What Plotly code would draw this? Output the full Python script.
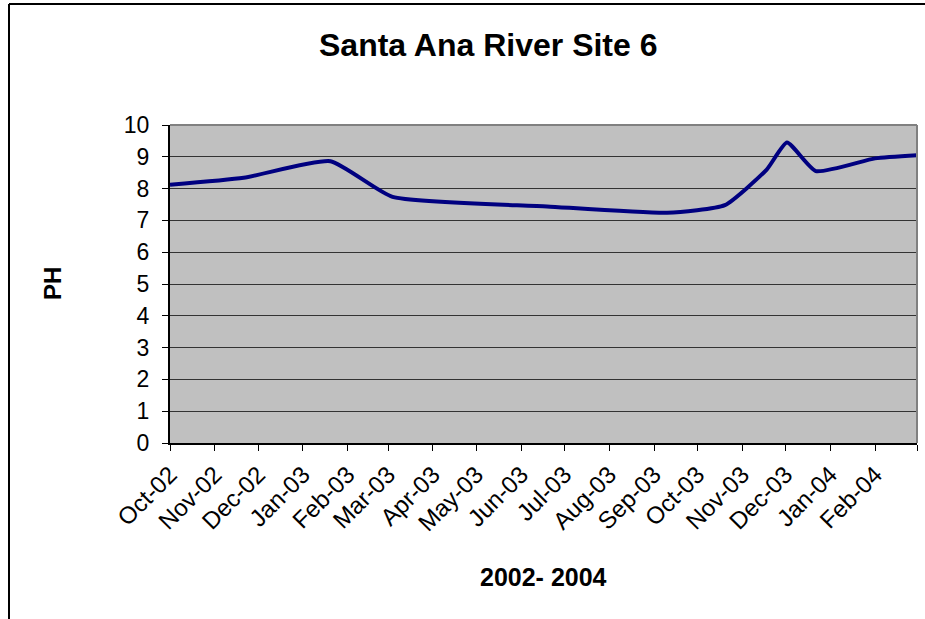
import plotly.graph_objects as go

# Data
dates = ["2002-10-01", "2002-11-21", "2003-01-20", "2003-03-04", "2003-06-19",
         "2003-09-10", "2003-10-20", "2003-11-18", "2003-12-02", "2003-12-22",
         "2004-02-01", "2004-03-01"]
ph = [8.12, 8.34, 8.86, 7.74, 7.44, 7.24, 7.48, 8.60, 9.45, 8.55, 8.95, 9.05]

tick_vals = ["2002-10-01", "2002-11-01", "2002-12-01", "2003-01-01", "2003-02-01",
             "2003-03-01", "2003-04-01", "2003-05-01", "2003-06-01", "2003-07-01",
             "2003-08-01", "2003-09-01", "2003-10-01", "2003-11-01", "2003-12-01",
             "2004-01-01", "2004-02-01", "2004-03-01"]
tick_text = ["Oct-02", "Nov-02", "Dec-02", "Jan-03", "Feb-03", "Mar-03", "Apr-03",
             "May-03", "Jun-03", "Jul-03", "Aug-03", "Sep-03", "Oct-03", "Nov-03",
             "Dec-03", "Jan-04", "Feb-04", ""]

W, H = 925, 619
L, R, T, B = 170, 8, 125, 176
pw, ph_ = W - L - R, H - T - B

def px(x):
    return (x - L) / pw

def py(y):
    return (H - B - y) / ph_

fig = go.Figure()
fig.add_trace(go.Scatter(
    x=dates, y=ph, mode="lines",
    line=dict(color="#000080", width=4, shape="spline", smoothing=0.5),
    showlegend=False, hoverinfo="skip",
))

font = "Arial, Liberation Sans, sans-serif"
fig.update_layout(
    width=W, height=H,
    margin=dict(l=L, r=R, t=T, b=B),
    paper_bgcolor="white", plot_bgcolor="#C0C0C0",
    font=dict(family=font, color="black"),
    xaxis=dict(
        type="date", range=["2002-10-01", "2004-03-01"],
        tickmode="array", tickvals=tick_vals, ticktext=tick_text,
        tickangle=-45, tickfont=dict(size=24), ticks="outside", ticklen=6,
        tickcolor="black", showgrid=False, showline=True, linecolor="black",
        linewidth=2, zeroline=False,
    ),
    yaxis=dict(
        range=[0, 10], dtick=1, tickfont=dict(size=23), ticks="outside",
        ticklen=6, tickcolor="black", showgrid=True, gridcolor="#333333",
        gridwidth=1, showline=True, linecolor="black", linewidth=2,
        zeroline=False, ticklabelstandoff=8,
    ),
    shapes=[
        dict(type="line", xref="paper", yref="paper", x0=0, x1=1, y0=1, y1=1,
             line=dict(color="#808080", width=2)),
        dict(type="line", xref="paper", yref="paper", x0=1, x1=1, y0=0, y1=1,
             line=dict(color="#808080", width=2)),
        dict(type="line", xref="paper", yref="paper", x0=px(9), x1=px(9),
             y0=py(H + 5), y1=py(4), line=dict(color="black", width=2)),
        dict(type="line", xref="paper", yref="paper", x0=px(9), x1=px(W + 5),
             y0=py(4), y1=py(4), line=dict(color="black", width=2)),
    ],
    annotations=[
        dict(text="<b>Santa Ana River Site 6</b>", xref="paper", yref="paper",
             x=px(488), y=py(45), showarrow=False, font=dict(size=32),
             xanchor="center", yanchor="middle"),
        dict(text="<b>2002- 2004</b>", xref="paper", yref="paper",
             x=px(543), y=py(577), showarrow=False, font=dict(size=25),
             xanchor="center", yanchor="middle"),
        dict(text="<b>PH</b>", xref="paper", yref="paper",
             x=px(52), y=py(284), showarrow=False, font=dict(size=24),
             textangle=-90, xanchor="center", yanchor="middle"),
    ],
)

fig.write_html("out.html", config={"displayModeBar": False},
               post_script="document.body.style.margin='0';document.body.style.overflow='hidden';")
